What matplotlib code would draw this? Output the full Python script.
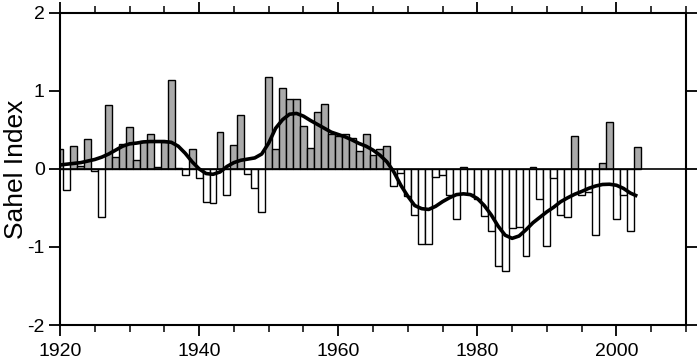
import matplotlib
matplotlib.use("Agg")
import matplotlib.pyplot as plt
from matplotlib.ticker import MultipleLocator

plt.rcParams['font.family'] = ['Liberation Sans', 'DejaVu Sans']

years = list(range(1920, 2004))
index_values = [
    0.25, -0.27, 0.295, 0.04, 0.385, -0.03, -0.615, 0.815, 0.15, 0.316,   # 1920-1929
    0.54, 0.11, 0.355, 0.45, 0.02, 0.34, 1.14, 0.01, -0.077, 0.26,        # 1930-1939
    -0.115, -0.43, -0.44, 0.47, -0.34, 0.30, 0.69, -0.06, -0.24, -0.55,   # 1940-1949
    1.18, 0.26, 1.04, 0.89, 0.90, 0.555, 0.27, 0.73, 0.83, 0.45,          # 1950-1959
    0.42, 0.45, 0.40, 0.23, 0.45, 0.18, 0.25, 0.29, -0.22, -0.05,         # 1960-1969
    -0.35, -0.59, -0.96, -0.96, -0.10, -0.08, -0.34, -0.64, 0.02, -0.32,  # 1970-1979
    -0.38, -0.60, -0.79, -1.24, -1.31, -0.76, -0.74, -1.12, 0.02, -0.39,  # 1980-1989
    -0.99, -0.12, -0.59, -0.62, 0.42, -0.33, -0.30, -0.85, 0.08, 0.60,    # 1990-1999
    -0.64, -0.33, -0.80, 0.28,                                            # 2000-2003
]
smooth_values = [
    0.05, 0.06, 0.07, 0.08, 0.10, 0.12, 0.15, 0.19, 0.24, 0.29,
    0.32, 0.33, 0.345, 0.35, 0.35, 0.35, 0.34, 0.29, 0.20, 0.09,
    0.0, -0.06, -0.07, -0.04, 0.03, 0.08, 0.11, 0.125, 0.14, 0.19,
    0.33, 0.52, 0.63, 0.70, 0.71, 0.675, 0.62, 0.57, 0.52, 0.47,
    0.44, 0.41, 0.37, 0.325, 0.29, 0.24, 0.175, 0.09, -0.04, -0.21,
    -0.35, -0.47, -0.51, -0.52, -0.48, -0.42, -0.37, -0.33, -0.32, -0.33,
    -0.38, -0.47, -0.59, -0.735, -0.85, -0.89, -0.86, -0.78, -0.69, -0.62,
    -0.55, -0.49, -0.42, -0.37, -0.325, -0.29, -0.25, -0.22, -0.20, -0.197,
    -0.21, -0.25, -0.31, -0.35,
]
x_ticks = [1920, 1940, 1960, 1980, 2000]
y_ticks = [-2, -1, 0, 1, 2]

fig = plt.figure(figsize=(7.0, 3.61), dpi=100)
ax = fig.add_axes([60/700, 1 - 325/361, (686-60)/700, (325-12.7)/361])

colors = ['#aaaaaa' if v > 0 else 'white' for v in index_values]
ax.bar(years, index_values, width=1.0, color=colors, edgecolor='black',
       linewidth=1.0, zorder=2)
ax.axhline(0, color='black', linewidth=1.2, zorder=3)
ax.plot(years, smooth_values, color='black', linewidth=2.6, zorder=4,
        solid_capstyle='butt')

ax.set_xlim(1920, 2010)
ax.set_ylim(-2, 2)
ax.set_xticks(x_ticks)
ax.set_xticklabels([str(t) for t in x_ticks])
ax.xaxis.set_minor_locator(MultipleLocator(5))
ax.set_yticks(y_ticks)
ax.set_yticklabels([str(t) for t in y_ticks])

for s in ax.spines.values():
    s.set_linewidth(1.5)

ax.tick_params(axis='both', which='major', direction='out', length=8, width=1.3,
               labelsize=14, pad=3, top=True, right=True)
ax.tick_params(axis='x', which='major', pad=5)
ax.tick_params(axis='x', which='minor', direction='out', length=5, width=1.1,
               top=True, bottom=True)

fig.text(16/700, 1 - 169/361, 'Sahel Index', rotation=90, fontsize=19,
         ha='center', va='center')

fig.savefig('out.png', dpi=100)
